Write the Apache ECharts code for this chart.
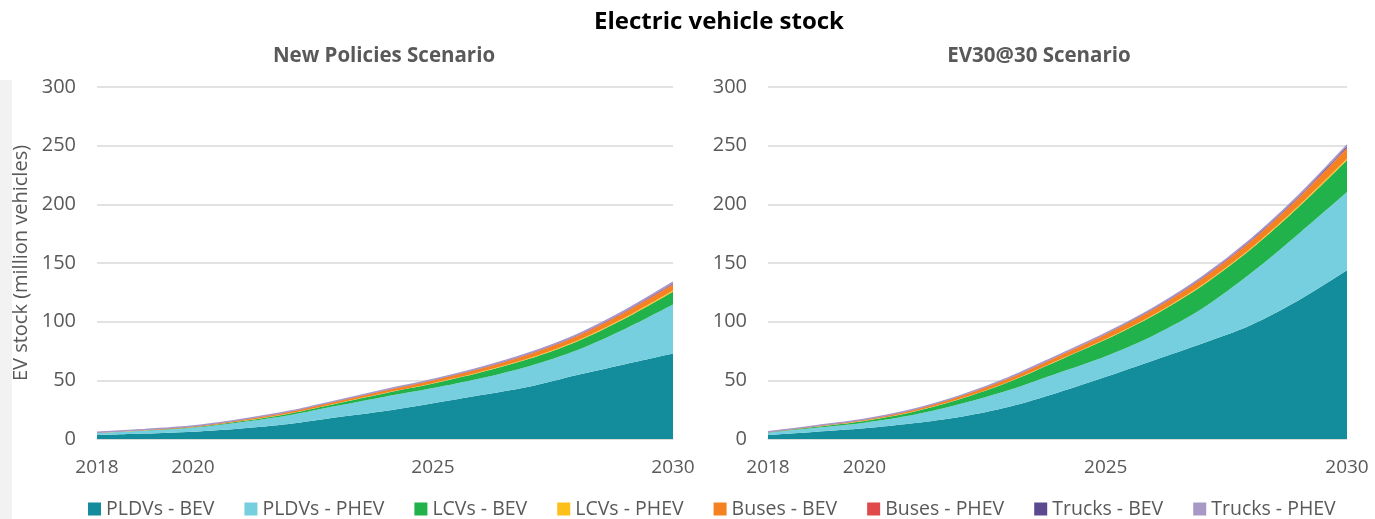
<!DOCTYPE html>
<html lang="en">

<head>
  <meta charset="UTF-8">
  <title>Electric vehicle stock</title>
  <style>
    html, body {
      margin: 0;
      width: 100%;
      height: 100%;
      background: #fff;
    }

    #chart {
      width: 1375px;
      height: 519px;
    }
  </style>
</head>

<body>
  <div id="chart"></div>

  <script src="https://cdn.jsdelivr.net/npm/echarts@6/dist/echarts.min.js"></script>
  <script>
    // years on the x axis, only some of them get a label
    var years = ['2018', '2019', '2020', '2021', '2022', '2023', '2024', '2025', '2026', '2027', '2028', '2029', '2030'];
    var yearLabels = ['2018', '2020', '2025', '2030'];

    var seriesNames = ['PLDVs - BEV', 'PLDVs - PHEV', 'LCVs - BEV', 'LCVs - PHEV', 'Buses - BEV', 'Buses - PHEV', 'Trucks - BEV', 'Trucks - PHEV'];
    var seriesColors = ['#138d9c', '#76cfdf', '#21b24b', '#fdbf1a', '#f58220', '#e04a4a', '#5c4a8f', '#a898c8'];

    // New Policies Scenario (million vehicles)
    var npsPldvBev = [3.3, 4.6, 6.2, 9.0, 12.8, 18.5, 23.8, 30.4, 37.4, 44.5, 54.5, 63.8, 72.9];
    var npsPldvPhev = [1.8, 2.4, 3.3, 5.2, 7.4, 9.8, 12.3, 13.0, 14.4, 17.6, 21.2, 30.0, 41.7];
    var npsLcvBev = [0.25, 0.35, 0.5, 0.9, 1.4, 2.0, 2.9, 3.8, 5.0, 6.2, 7.5, 9.0, 11.0];
    var npsLcvPhev = [0.03, 0.05, 0.08, 0.12, 0.17, 0.22, 0.28, 0.35, 0.42, 0.5, 0.6, 0.75, 0.95];
    var npsBusBev = [0.4, 0.55, 0.75, 1.1, 1.45, 1.7, 2.1, 2.5, 2.85, 3.3, 3.75, 4.3, 4.9];
    var npsBusPhev = [0.05, 0.06, 0.08, 0.1, 0.14, 0.17, 0.2, 0.25, 0.3, 0.36, 0.42, 0.5, 0.6];
    var npsTruckBev = [0.01, 0.02, 0.04, 0.08, 0.12, 0.15, 0.2, 0.25, 0.3, 0.38, 0.45, 0.55, 0.65];
    var npsTruckPhev = [0.01, 0.02, 0.05, 0.1, 0.12, 0.16, 0.22, 0.25, 0.33, 0.46, 0.58, 0.7, 0.9];

    // EV30@30 Scenario (million vehicles)
    var evPldvBev = [3.4, 6.2, 9.1, 13.4, 19.0, 27.5, 39.5, 53.0, 67.2, 81.4, 97.0, 118.3, 143.8];
    var evPldvPhev = [2.0, 3.4, 4.8, 7.0, 11.0, 14.2, 16.5, 17.5, 21.3, 29.8, 44.0, 56.7, 66.7];
    var evLcvBev = [0.3, 0.8, 1.5, 2.6, 4.2, 7.0, 10.5, 14.2, 17.0, 19.5, 20.5, 22.7, 27.0];
    var evLcvPhev = [0.03, 0.06, 0.1, 0.16, 0.22, 0.3, 0.38, 0.48, 0.6, 0.75, 0.9, 1.1, 1.5];
    var evBusBev = [0.4, 0.7, 1.1, 1.6, 2.2, 2.75, 3.3, 3.9, 4.6, 5.2, 5.8, 6.7, 8.6];
    var evBusPhev = [0.05, 0.08, 0.12, 0.16, 0.2, 0.25, 0.3, 0.35, 0.4, 0.45, 0.5, 0.6, 0.8];
    var evTruckBev = [0.01, 0.03, 0.08, 0.13, 0.18, 0.25, 0.3, 0.37, 0.45, 0.55, 0.65, 0.8, 1.1];
    var evTruckPhev = [0.01, 0.03, 0.1, 0.15, 0.2, 0.25, 0.32, 0.4, 0.45, 0.55, 0.65, 0.8, 1.0];

    var npsData = [npsPldvBev, npsPldvPhev, npsLcvBev, npsLcvPhev, npsBusBev, npsBusPhev, npsTruckBev, npsTruckPhev];
    var evData = [evPldvBev, evPldvPhev, evLcvBev, evLcvPhev, evBusBev, evBusPhev, evTruckBev, evTruckPhev];

    var font = 'Open Sans';
    var textGrey = '#595959';

    var myChart = echarts.init(document.getElementById('chart'));

    function xAxisFor(gridIndex) {
      return {
        type: 'category',
        gridIndex: gridIndex,
        data: years,
        boundaryGap: false,
        axisLine: { lineStyle: { color: '#d9d9d9', width: 1.5 } },
        axisTick: { show: false },
        axisLabel: {
          interval: function (index, value) {
            return yearLabels.indexOf(value) >= 0;
          },
          color: textGrey,
          fontFamily: font,
          fontSize: 19,
          margin: 19
        }
      };
    }

    function yAxisFor(gridIndex, name) {
      return {
        type: 'value',
        gridIndex: gridIndex,
        min: 0,
        max: 300,
        interval: 50,
        name: name,
        nameLocation: 'middle',
        nameGap: 66,
        nameTextStyle: { color: textGrey, fontFamily: font, fontSize: 20 },
        axisLine: { show: false },
        axisTick: { show: false },
        axisLabel: { color: textGrey, fontFamily: font, fontSize: 20, margin: 21 },
        splitLine: { lineStyle: { color: '#d9d9d9', width: 1.5 } }
      };
    }

    var series = [];
    [npsData, evData].forEach(function (data, g) {
      for (var i = 0; i < seriesNames.length; i++) {
        series.push({
          name: seriesNames[i],
          type: 'line',
          xAxisIndex: g,
          yAxisIndex: g,
          stack: 'stock' + g,
          smooth: 0.3,
          symbol: 'none',
          lineStyle: { width: i === 7 ? 1.5 : 0, color: seriesColors[i] },
          areaStyle: { color: seriesColors[i], opacity: 1 },
          itemStyle: { color: seriesColors[i] },
          data: data[i]
        });
      }
    });

    var option = {
      animation: false,
      title: [{
        text: 'Electric vehicle stock',
        left: 714,
        top: 5,
        textAlign: 'center',
        textStyle: { color: '#000', fontFamily: font, fontSize: 24, fontWeight: 'bold' }
      }, {
        text: 'New Policies Scenario',
        left: 379,
        top: 41,
        textAlign: 'center',
        textStyle: { color: textGrey, fontFamily: font, fontSize: 20.5, fontWeight: 'bold' }
      }, {
        text: 'EV30@30 Scenario',
        left: 1034,
        top: 41,
        textAlign: 'center',
        textStyle: { color: textGrey, fontFamily: font, fontSize: 20.5, fontWeight: 'bold' }
      }],
      graphic: [{
        type: 'rect',
        left: 0,
        top: 80,
        shape: { width: 12, height: 439 },
        style: { fill: '#f2f2f2' },
        silent: true
      }],
      legend: {
        data: seriesNames,
        left: 83,
        top: 494,
        itemWidth: 13,
        itemHeight: 13,
        itemGap: 30,
        icon: 'rect',
        textStyle: { color: textGrey, fontFamily: font, fontSize: 19.5 }
      },
      grid: [
        { left: 97, right: 702, top: 87, bottom: 80 },
        { left: 768, right: 28, top: 87, bottom: 80 }
      ],
      xAxis: [xAxisFor(0), xAxisFor(1)],
      yAxis: [yAxisFor(0, 'EV stock (million vehicles)'), yAxisFor(1, '')],
      series: series
    };

    myChart.setOption(option);
  </script>
</body>

</html>
